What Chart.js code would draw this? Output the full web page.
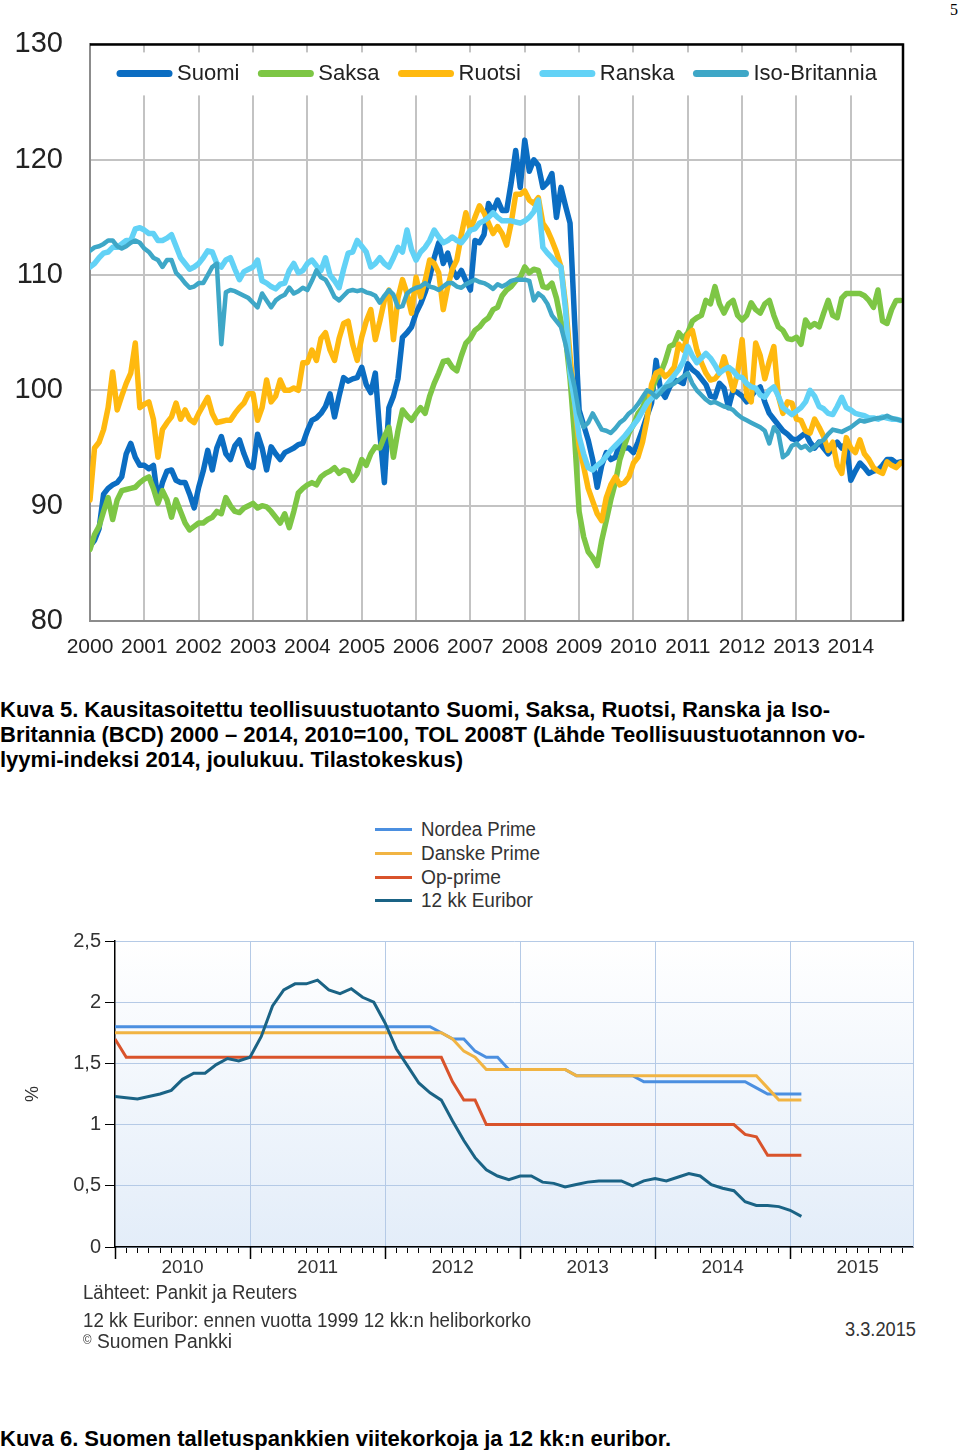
<!DOCTYPE html>
<html>
<head>
<meta charset="utf-8">
<script src="https://cdn.jsdelivr.net/npm/chart.js@4.4.1/dist/chart.umd.min.js"></script>
<style>
  body { margin: 0; background: #fff; }
  #sivu { position: relative; width: 960px; height: 1450px; overflow: hidden; font-family: "Liberation Sans", Arial, sans-serif; }
  .abs { position: absolute; white-space: nowrap; }
  .kuvateksti { font-weight: bold; font-size: 22px; line-height: 25px; color: #000; }
  .kapea { font-family: "Liberation Sans", Arial, sans-serif; color: #333; font-size: 20px; line-height: 24px; transform-origin: left center; }
</style>
</head>
<body>
<div id="sivu">
  <div class="abs" style="left:950px;top:1px;font:16px 'Liberation Serif', serif;">5</div>
  <canvas id="teollisuus" class="abs" width="960" height="670" style="left:0;top:0"></canvas>

  <div class="abs kuvateksti" style="left:0;top:697px">
    Kuva 5. Kausitasoitettu teollisuustuotanto Suomi, Saksa, Ruotsi, Ranska ja Iso-<br>
    Britannia (BCD) 2000 – 2014, 2010=100, TOL 2008T (Lähde Teollisuustuotannon vo-<br>
    lyymi-indeksi 2014, joulukuu. Tilastokeskus)
  </div>

  <div id="selite2"></div>
  <canvas id="korot" class="abs" width="960" height="400" style="left:0;top:900px"></canvas>

  <div class="abs kapea" data-leveys="214" style="left:83px;top:1280px">Lähteet: Pankit ja Reuters</div>
  <div class="abs kapea" data-leveys="448" style="left:83px;top:1308px">12 kk Euribor: ennen vuotta 1999 12 kk:n heliborkorko</div>
  <div class="abs kapea" data-leveys="149" style="left:83px;top:1328px"><span style="font-size:12px;vertical-align:4px">©</span> Suomen Pankki</div>
  <div class="abs kapea" data-leveys="71" style="left:845px;top:1317px">3.3.2015</div>

  <div class="abs kuvateksti" style="left:0;top:1426px">Kuva 6. Suomen talletuspankkien viitekorkoja ja 12 kk:n euribor.</div>
</div>

<script>
// ---------- Kuva 5: teollisuustuotanto, kuukausittain 1/2000 - 12/2014 ----------
const maat = ['Suomi', 'Saksa', 'Ruotsi', 'Ranska', 'Iso-Britannia'];
const maaVarit = ['#0b6dc2', '#7dc645', '#ffb90f', '#62d2f6', '#3ea7c7'];
const vuosiTikit = [2000, 2001, 2002, 2003, 2004, 2005, 2006, 2007, 2008, 2009, 2010, 2011, 2012, 2013, 2014];
const indeksiTikit = [80, 90, 100, 110, 120, 130];

const suomi = [
  86.5, 87, 88, 91, 91.5, 91.8, 92, 92.5, 94.5, 95.4, 94.2, 93.5,
  93.5, 93.2, 93.5, 90.5, 92, 93, 93.1, 92.2, 92, 92, 91, 89.8,
  91.6, 93, 94.8, 93.1, 95, 96, 94.5, 94, 95.2, 95.7, 94.5, 93.5,
  93.3, 96.2, 95, 93.1, 95.1, 94.5, 94, 94.6, 94.8, 95, 95.3, 95.4,
  96.5, 97.4, 97.6, 98, 98.6, 99.7, 97.7, 99.5, 101.1, 100.8, 101, 101.1,
  102, 100.5, 99.8, 101.5, 96.3, 92, 98.5, 99.5, 101, 104.6, 105, 105.5,
  106.7, 107.5, 108.5, 109.8, 111.5, 112.8, 111, 111.9, 110.5, 109.8, 110.4, 109.5,
  108.7, 113, 112.8, 113.5, 116.2, 115.5, 116.5, 115.6, 115.6, 118, 120.8, 117.6,
  121.7, 119, 120, 119.5, 117.6, 118, 118.8, 115, 117.6, 116, 114.5, 106.1,
  98.3, 97, 95.7, 94, 91.6, 93.5, 94.6, 94, 94.2, 95.4, 95, 95,
  94.6, 95.5, 96.6, 97.8, 98.9, 102.6, 100, 99.4, 100.3, 100.9, 100.8, 100.6,
  102.3, 101.8, 101.5, 101, 100.5, 99.5, 99.4, 100.6, 100.2, 98.5, 100, 99.8,
  99.5, 99, 99.5, 100, 100.3, 99, 98, 97.5, 97, 96.5, 96.2, 95.8,
  95.7, 96, 96.3, 95.5, 95, 95.5, 95, 94.5, 95, 95.5, 95, 95.4,
  92.2, 93, 93.7, 93.3, 92.8, 93, 93.1, 93.5, 94, 94, 93.7, 93.8
];
const saksa = [
  86.2, 87.5, 88.2, 89.5, 90.7, 88.8, 90.5, 91.3, 91.4, 91.5, 91.6, 92,
  92.3, 92.5, 91.5, 90.2, 91.3, 90.5, 89, 90.5, 89.5, 88.5, 87.9, 88.2,
  88.5, 88.5, 88.8, 89, 89.5, 89.3, 90.7, 90, 89.5, 89.4, 89.8, 90,
  90.2, 89.8, 90, 89.9, 89.5, 89, 88.5, 89.3, 88.1, 89.5, 91.1, 91.5,
  91.8, 92, 91.8, 92.5, 92.8, 93, 93.3, 92.8, 93.1, 93, 92.2, 92.8,
  94, 93.5, 94.5, 95.1, 95, 96, 96.8, 94.2, 96.5, 98.3, 97.8, 97.4,
  98, 98.5, 98, 99.5, 100.6, 101.5, 102.5, 102.6, 102, 101.7, 103, 104.1,
  104.5, 105.2, 105.5, 106, 106.3, 107, 107.2, 108.2, 108.7, 109, 109.5, 109.8,
  110.7, 110.2, 110.5, 110.4, 109, 108.9, 109.3, 108, 106, 104.6, 101, 96,
  89.5, 87.3, 86, 85.5, 84.8, 87, 88.7, 90.5, 92, 94, 95.2, 96.3,
  97, 98, 98.5, 99.5, 100, 101, 101.5, 102.5, 103.8, 104, 105, 104.5,
  105, 106, 106.3, 106.5, 107.8, 107.5, 109, 107.5, 106.7, 107.5, 107.8, 106.5,
  106.1, 106.5, 107.6, 107, 106.7, 107.5, 107.8, 106.5, 105.5, 105.2, 104.5, 104.4,
  104.6, 104, 106.1, 105.5, 105.8, 105.5, 106.7, 107.8, 106.5, 106.3, 108, 108.4,
  108.4, 108.4, 108.4, 108.2, 107.8, 107.2, 108.7, 106, 105.8, 107, 107.8, 107.8
];
const ruotsi = [
  90.5, 95, 95.5, 96.6, 98.5, 101.6, 98.3, 99.5, 100.6, 101.5, 104.1, 98.5,
  98.8, 99, 97.5, 94.2, 96.6, 97.2, 97.7, 98.9, 97.5, 98.3, 97.5, 97.2,
  98, 98.7, 99.4, 98, 97.2, 97.3, 97.4, 97.4, 98, 98.5, 98.9, 99.7,
  99.7, 97.4, 98.5, 100.9, 99, 99.5, 100.9, 100, 100, 100.2, 100, 102.4,
  102.4, 103.5, 102.6, 104.5, 105, 103.5, 102.6, 104.5, 105.8, 106, 104, 102.6,
  104.6, 106, 107, 104.4, 106, 107.8, 108.7, 104.4, 108, 109.6, 108.4, 106.7,
  109.8, 108.1, 109.5, 111.3, 111, 110.2, 107, 109, 110.5, 111.3, 113.5, 115.4,
  113.9, 115, 116, 115.4, 114.5, 113.6, 114.2, 113.6, 112.6, 114.5, 117, 117,
  117.3, 116.5, 116.2, 116.7, 114.5, 113.9, 113, 112, 110.7, 107.5, 103, 99,
  95.2, 93.4, 91.5, 90.4, 89.3, 88.7, 90.7, 91.8, 92.5, 91.8, 92, 92.5,
  93.7, 94.2, 95.5, 97.5, 100.5, 101.5, 101.7, 101.2, 101.5, 102, 104, 103.5,
  104.8, 105.2, 103.5, 102.4, 101.5, 100.9, 101, 101.5, 102.9, 101.5, 100, 101.5,
  104.4, 99.5, 99, 104.1, 103, 101, 102.5, 103.8, 99.5, 98, 99, 98.9,
  97.5, 97.4, 96.5, 96.3, 97.5, 96.8, 96, 94.8, 95.5, 93.5, 92.8, 95.9,
  95, 94.6, 95.7, 94.5, 94, 93.3, 93, 92.8, 93.8, 93.5, 93.3, 93.7
];
const ranska = [
  110.7, 111, 111.5, 111.9, 112, 112.4, 112.4, 112.7, 113, 113, 114, 114.1,
  113.9, 113.6, 113.6, 113, 113, 113.2, 113.5, 112.5, 111.5, 111, 110.5, 110.7,
  111, 111.5, 112.1, 112, 111, 110.7, 111.3, 111.5, 110.5, 109.6, 110.3, 110.5,
  110.7, 111.3, 109.5, 109.3, 109, 108.8, 109.2, 109.3, 110.4, 111, 110.2, 110.4,
  111, 111.3, 110.8, 110.4, 111.5, 110, 109.5, 108.9, 110.5, 111.9, 112, 113,
  112.5, 112, 110.7, 111, 111.5, 111, 110.7, 111.5, 112.4, 112, 113.9, 112.2,
  111.3, 112, 112.4, 113, 113.9, 113.3, 112.8, 113, 113.3, 113, 112.8, 113.3,
  113.9, 114, 114.5, 114.7, 115, 115.4, 115, 114.7, 114.7, 114.7, 114.6, 114.5,
  114.7, 115, 115.5, 116.5, 112.4, 111.9, 111.5, 111, 110.7, 107, 101.5, 99,
  96, 94.5, 93.3, 93.1, 93.5, 93.8, 94.3, 94.8, 95.2, 95.6, 96, 96.5,
  97, 97.5, 98.2, 98.9, 99.3, 99.7, 100, 100.3, 100.8, 101.3, 101.8, 102.5,
  103.8, 103, 102.4, 102.8, 103.2, 102.8, 102.2, 101.5, 101.8, 102, 101.7, 101.2,
  101.1, 100.6, 100.3, 100.2, 99.6, 99.4, 100, 100.3, 99.5, 98.5, 98.2, 97.9,
  98.2, 98.5, 99, 100, 99.5, 98.6, 98.4, 98, 97.9, 98.6, 99.4, 98.5,
  98.3, 98, 97.9, 97.8, 97.6, 97.6, 97.5, 97.7, 97.6, 97.5, 97.5, 97.4
];
const isoBritannia = [
  112.1, 112.4, 112.5, 112.7, 113, 113, 112.5, 112.3, 112.5, 112.8, 113, 112.8,
  112.3, 112, 111.5, 111.3, 110.7, 111.3, 111.3, 110.2, 109.8, 109.3, 108.9, 109,
  109.3, 109.3, 110, 110.7, 111, 104, 108.5, 108.7, 108.6, 108.4, 108.2, 108,
  107.6, 107.2, 108.4, 107.8, 107.2, 107.8, 108.1, 108.3, 108.9, 108.4, 108.6, 108.9,
  108.7, 109.5, 110.4, 109.8, 109.6, 108.9, 108.1, 107.8, 108.2, 108.6, 108.7, 108.6,
  108.7, 108.5, 108.4, 108.2, 107.6, 108.2, 108.7, 108.3, 107.2, 107.3, 108.4, 108.7,
  108.9, 109, 109.3, 109, 108.9, 108.7, 109, 109.3, 109.3, 109, 108.9, 109.2,
  109.4, 109.6, 109.4, 109.3, 109.1, 108.8, 109.2, 109, 109.2, 109.5, 109.6, 109.6,
  109.6, 109.5, 107.8, 108.4, 108.1, 107.5, 106.5, 106, 105.5, 104, 102, 100.3,
  98, 96.8, 97.2, 98, 97.3, 96.6, 96.5, 96.3, 96.7, 97.2, 97.5, 98,
  98.3, 98.8, 99.4, 100, 99.8, 99.4, 99.8, 100.3, 100.4, 100.6, 100.9, 101.2,
  101.5, 100.6, 100, 99.6, 99.2, 98.9, 99, 98.8, 98.6, 98.5, 98.3, 97.9,
  97.6, 97.4, 97.2, 97, 96.8, 96.5, 95.4, 96.8, 96.3, 94.2, 94.5, 95.2,
  95.4, 95, 95.2, 94.8, 95.1, 95.5, 95.7, 96.2, 96.6, 96.5, 96.4, 96.6,
  96.8, 97.1, 97.4, 97.3, 97.4, 97.5, 97.6, 97.6, 97.8, 97.6, 97.5, 97.4
];

// ---------- Kuva 6: viitekorot, kuukausittain 1/2010 - 2/2015 ----------
const korkoNimet = ['Nordea Prime', 'Danske Prime', 'Op-prime', '12 kk Euribor'];
const korkoVarit = ['#4b8fe0', '#f1b443', '#d9532b', '#1a6385'];
const korkoVuodet = ['2010', '2011', '2012', '2013', '2014', '2015'];
const korkoTikit = [0, 0.5, 1, 1.5, 2, 2.5];

const nordeaPrime = [
  1.8, 1.8, 1.8, 1.8, 1.8, 1.8, 1.8, 1.8, 1.8, 1.8, 1.8, 1.8,
  1.8, 1.8, 1.8, 1.8, 1.8, 1.8, 1.8, 1.8, 1.8, 1.8, 1.8, 1.8,
  1.8, 1.8, 1.8, 1.8, 1.8, 1.75, 1.7, 1.7, 1.6, 1.55, 1.55, 1.45,
  1.45, 1.45, 1.45, 1.45, 1.45, 1.4, 1.4, 1.4, 1.4, 1.4, 1.4, 1.35,
  1.35, 1.35, 1.35, 1.35, 1.35, 1.35, 1.35, 1.35, 1.35, 1.3, 1.25, 1.25,
  1.25, 1.25
];
const danskePrime = [
  1.75, 1.75, 1.75, 1.75, 1.75, 1.75, 1.75, 1.75, 1.75, 1.75, 1.75, 1.75,
  1.75, 1.75, 1.75, 1.75, 1.75, 1.75, 1.75, 1.75, 1.75, 1.75, 1.75, 1.75,
  1.75, 1.75, 1.75, 1.75, 1.75, 1.75, 1.7, 1.6, 1.55, 1.45, 1.45, 1.45,
  1.45, 1.45, 1.45, 1.45, 1.45, 1.4, 1.4, 1.4, 1.4, 1.4, 1.4, 1.4,
  1.4, 1.4, 1.4, 1.4, 1.4, 1.4, 1.4, 1.4, 1.4, 1.4, 1.3, 1.2,
  1.2, 1.2
];
const opPrime = [
  1.7, 1.55, 1.55, 1.55, 1.55, 1.55, 1.55, 1.55, 1.55, 1.55, 1.55, 1.55,
  1.55, 1.55, 1.55, 1.55, 1.55, 1.55, 1.55, 1.55, 1.55, 1.55, 1.55, 1.55,
  1.55, 1.55, 1.55, 1.55, 1.55, 1.55, 1.35, 1.2, 1.2, 1.0, 1.0, 1.0,
  1.0, 1.0, 1.0, 1.0, 1.0, 1.0, 1.0, 1.0, 1.0, 1.0, 1.0, 1.0,
  1.0, 1.0, 1.0, 1.0, 1.0, 1.0, 1.0, 1.0, 0.92, 0.9, 0.75, 0.75,
  0.75, 0.75
];
const euribor12 = [
  1.23, 1.22, 1.21, 1.23, 1.25, 1.28, 1.37, 1.42, 1.42, 1.49, 1.54, 1.52,
  1.55, 1.72, 1.97, 2.10, 2.15, 2.15, 2.18, 2.10, 2.07, 2.11, 2.04, 2.00,
  1.83, 1.62, 1.48, 1.34, 1.26, 1.20, 1.03, 0.87, 0.73, 0.63, 0.58, 0.55,
  0.58, 0.58, 0.53, 0.52, 0.49, 0.51, 0.53, 0.54, 0.54, 0.54, 0.50, 0.54,
  0.56, 0.54, 0.57, 0.60, 0.58, 0.51, 0.48, 0.46, 0.37, 0.34, 0.34, 0.33,
  0.30, 0.25
];

const sans = '"Liberation Sans", Arial, sans-serif';

// kuukausisarja -> pisteet lineaariselle x-akselille
function pisteet(arvot, alkuvuosi) {
  return arvot.map((v, i) => ({ x: alkuvuosi + i / 12, y: v }));
}

// ---------- kuva 5 ----------
const sarjat1 = [suomi, saksa, ruotsi, ranska, isoBritannia];

const selite1 = {
  id: 'selite1',
  beforeDatasetsDraw(chart) {
    const { ctx, chartArea: a } = chart;
    ctx.save();
    ctx.fillStyle = '#fff';
    ctx.fillRect(a.left + 1, a.top + 8, a.right - a.left - 2, 43);
    ctx.font = '22px ' + sans;
    ctx.textBaseline = 'middle';
    let x = 117;
    const y = a.top + 29;
    chart.data.datasets.forEach(ds => {
      ctx.strokeStyle = ds.borderColor;
      ctx.lineWidth = 7;
      ctx.lineCap = 'round';
      ctx.beginPath();
      ctx.moveTo(x + 3, y);
      ctx.lineTo(x + 52, y);
      ctx.stroke();
      ctx.fillStyle = '#222';
      ctx.fillText(ds.label, x + 60, y + 1);
      x += 60 + ctx.measureText(ds.label).width + 19;
    });
    ctx.restore();
  },
  afterDraw(chart) {
    const { ctx, chartArea: a } = chart;
    ctx.save();
    ctx.strokeStyle = '#000';
    ctx.lineWidth = 2.5;
    ctx.beginPath();
    ctx.moveTo(a.left, a.top);
    ctx.lineTo(a.right, a.top);
    ctx.lineTo(a.right, a.bottom);
    ctx.stroke();
    ctx.restore();
  }
};

new Chart(document.getElementById('teollisuus'), {
  type: 'line',
  data: {
    datasets: maat.map((nimi, i) => ({
      label: nimi,
      data: pisteet(sarjat1[i], 2000),
      borderColor: maaVarit[i],
      borderWidth: i === 4 ? 4.5 : 5.5,
      order: 4 - i
    }))
  },
  options: {
    responsive: false,
    animation: false,
    layout: { padding: { top: 44, right: 57, left: 0, bottom: 0 } },
    plugins: { legend: { display: false }, tooltip: { enabled: false } },
    elements: {
      point: { radius: 0 },
      line: { tension: 0, borderJoinStyle: 'round', borderCapStyle: 'round' }
    },
    scales: {
      x: {
        type: 'linear',
        min: 2000,
        max: 2014.96,
        afterBuildTicks: s => { s.ticks = vuosiTikit.map(v => ({ value: v })); },
        afterFit: s => { s.height = 49; },
        grid: { color: '#c3c3c3', lineWidth: 2, drawTicks: false },
        border: { color: '#8c8c8c', width: 2 },
        ticks: {
          padding: 14, color: '#222', autoSkip: false, maxRotation: 0,
          font: { size: 21, family: sans },
          callback: v => String(v)
        }
      },
      y: {
        min: 80,
        max: 130,
        afterBuildTicks: s => { s.ticks = indeksiTikit.map(v => ({ value: v })); },
        afterFit: s => { s.width = 90; },
        grid: { color: '#c3c3c3', lineWidth: 2, drawTicks: false },
        border: { color: '#8c8c8c', width: 2 },
        ticks: { padding: 27, color: '#222', font: { size: 29, family: sans } }
      }
    }
  },
  plugins: [selite1]
});

// ---------- kuva 6 ----------
const sarjat2 = [nordeaPrime, danskePrime, opPrime, euribor12];

// html-selite
const selite2 = document.getElementById('selite2');
const seliteLeveys = [115, 119, 80, 112];
korkoNimet.forEach((nimi, i) => {
  const top = [817, 841, 865, 888][i];
  selite2.insertAdjacentHTML('beforeend',
    `<div class="abs" style="left:375px;top:${top + 11}px;width:37px;height:3px;background:${korkoVarit[i]}"></div>` +
    `<div class="abs kapea" data-leveys="${seliteLeveys[i]}" style="left:421px;top:${top}px">${nimi}</div>`);
});

// kapea fontti: puristetaan teksti vaakasuunnassa alkuperäisen levyiseksi
document.querySelectorAll('[data-leveys]').forEach(el => {
  const w = el.getBoundingClientRect().width;
  el.style.transform = `scaleX(${(Number(el.dataset.leveys) / w).toFixed(3)})`;
});

const tausta2 = {
  id: 'tausta2',
  beforeDraw(chart) {
    const { ctx, chartArea: a } = chart;
    const g = ctx.createLinearGradient(0, a.top, 0, a.bottom);
    g.addColorStop(0, '#ffffff');
    g.addColorStop(1, '#e3edf9');
    ctx.save();
    ctx.fillStyle = g;
    ctx.fillRect(a.left, a.top, a.right - a.left, a.bottom - a.top);
    ctx.restore();
  },
  afterDraw(chart) {
    const { ctx, chartArea: a, scales } = chart;
    ctx.save();
    ctx.strokeStyle = '#b5cae6';
    ctx.lineWidth = 1;
    ctx.beginPath();
    ctx.moveTo(a.right + 0.5, a.top);
    ctx.lineTo(a.right + 0.5, a.bottom);
    ctx.stroke();
    // vuosien pitkät tikit
    ctx.strokeStyle = '#000';
    ctx.lineWidth = 1.5;
    korkoVuodet.forEach(v => {
      const px = Math.round(scales.x.getPixelForValue(Number(v))) + 0.5;
      ctx.beginPath();
      ctx.moveTo(px, a.bottom);
      ctx.lineTo(px, a.bottom + 12);
      ctx.stroke();
    });
    ctx.restore();
  }
};

new Chart(document.getElementById('korot'), {
  type: 'line',
  data: {
    datasets: korkoNimet.map((nimi, i) => ({
      label: nimi,
      data: pisteet(sarjat2[i], 2010),
      borderColor: korkoVarit[i],
      borderWidth: 3,
      order: 3 - i
    }))
  },
  options: {
    responsive: false,
    animation: false,
    layout: { padding: { top: 41, right: 47, left: 0, bottom: 0 } },
    plugins: { legend: { display: false }, tooltip: { enabled: false } },
    elements: { point: { radius: 0 }, line: { tension: 0 } },
    scales: {
      x: {
        type: 'linear',
        min: 2010,
        max: 2015.91,
        afterBuildTicks: s => {
          const t = [];
          for (let k = 0; k <= 70; k++) t.push({ value: 2010 + k / 12 });
          s.ticks = t;
        },
        afterFit: s => { s.height = 53; },
        grid: {
          color: c => (c.index % 12 === 0 && c.index > 0) ? '#b5cae6' : 'rgba(0,0,0,0)',
          tickColor: '#000',
          tickLength: 6,
          tickWidth: 1
        },
        border: { color: '#000', width: 1.5 },
        ticks: {
          padding: 3, color: '#333', autoSkip: false, maxRotation: 0,
          font: { size: 19, family: sans },
          callback: (v, i) => (i % 12 === 6 ? korkoVuodet[Math.floor(i / 12)] : '')
        }
      },
      y: {
        min: 0,
        max: 2.5,
        afterBuildTicks: s => { s.ticks = korkoTikit.map(v => ({ value: v })); },
        afterFit: s => { s.width = 115; },
        title: { display: true, text: '%', color: '#333', font: { size: 18, family: sans }, padding: { top: 22, bottom: 0 } },
        grid: { color: '#b5cae6', tickColor: '#000', tickLength: 10, tickWidth: 1 },
        border: { color: '#000', width: 1.5 },
        ticks: {
          padding: 4, color: '#333',
          font: { size: 20, family: sans },
          callback: v => String(v).replace('.', ',')
        }
      }
    }
  },
  plugins: [tausta2]
});
</script>
</body>
</html>
